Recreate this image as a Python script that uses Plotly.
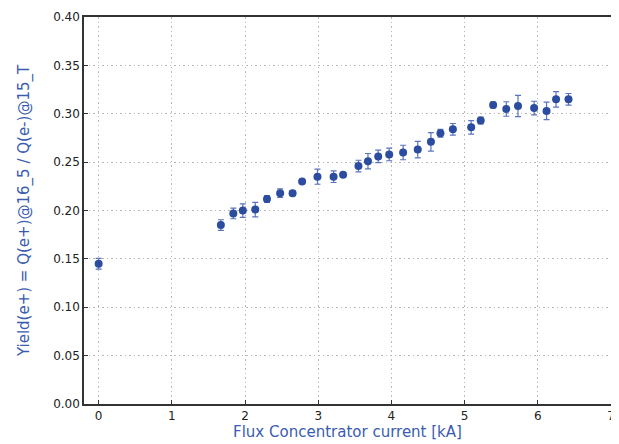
import plotly.graph_objects as go

current_kA = [0.0, 1.67, 1.84, 1.97, 2.14, 2.30, 2.48, 2.65, 2.78, 2.99, 3.21, 3.34,
              3.55, 3.68, 3.82, 3.97, 4.16, 4.36, 4.54, 4.67, 4.84, 5.09, 5.22,
              5.39, 5.57, 5.73, 5.95, 6.12, 6.25, 6.42]
yield_ratio = [0.145, 0.185, 0.197, 0.200, 0.201, 0.212, 0.218, 0.218, 0.230, 0.235, 0.235, 0.237,
               0.246, 0.251, 0.256, 0.258, 0.260, 0.263, 0.271, 0.280, 0.284, 0.286, 0.293,
               0.309, 0.305, 0.308, 0.306, 0.303, 0.315, 0.315]
yield_err = [0.0055, 0.0055, 0.0055, 0.007, 0.0075, 0.0035, 0.0045, 0.0025, 0.002, 0.0078, 0.006, 0.002,
             0.006, 0.008, 0.0065, 0.0065, 0.0075, 0.0085, 0.0096, 0.004, 0.006, 0.007, 0.0035,
             0.003, 0.0075, 0.011, 0.007, 0.009, 0.008, 0.006]

x_ticks = [0, 1, 2, 3, 4, 5, 6, 7]
y_ticks = [0.00, 0.05, 0.10, 0.15, 0.20, 0.25, 0.30, 0.35, 0.40]

fig = go.Figure()
fig.add_trace(go.Scatter(
    x=current_kA, y=yield_ratio, mode="markers",
    marker=dict(color="#2b4c9f", size=8, line=dict(width=0)),
    error_y=dict(type="data", array=yield_err, visible=True, color="#5b74c0",
                 thickness=1.2, width=3),
    showlegend=False,
))

title_color = "#3a5cb0"
grid_color = "#b8b8b8"
# the page body adds an 8px offset, so the figure is sized to fit the window
fig.update_layout(
    width=611, height=436,
    margin=dict(l=76, r=8, t=9, b=40),
    paper_bgcolor="white", plot_bgcolor="white",
    font=dict(family="DejaVu Sans", size=12, color="#222222"),
    xaxis=dict(
        range=[-0.2, 7.0005], tickvals=x_ticks, ticktext=[str(v) for v in x_ticks],
        showgrid=True, gridcolor=grid_color, griddash="1.5px,3px", gridwidth=1,
        showline=True, linecolor="#333333", linewidth=1.5, mirror=True,
        ticks="inside", ticklen=4, tickcolor="#333333",
        zeroline=False, automargin=False,
        title=dict(text="Flux Concentrator current [kA]",
                   font=dict(size=15, color=title_color), standoff=1),
    ),
    yaxis=dict(
        range=[0, 0.4001], tickvals=y_ticks, ticktext=[f"{v:.2f}" for v in y_ticks],
        showgrid=True, gridcolor=grid_color, griddash="1.5px,3px", gridwidth=1,
        showline=True, linecolor="#333333", linewidth=1.5, mirror=True,
        ticks="inside", ticklen=4, tickcolor="#333333",
        zeroline=False, automargin=False,
        title=dict(text="Yield(e+) = Q(e+)@16_5 / Q(e-)@15_T",
                   font=dict(size=15, color=title_color), standoff=20),
    ),
)

fig.write_html("out.html")
